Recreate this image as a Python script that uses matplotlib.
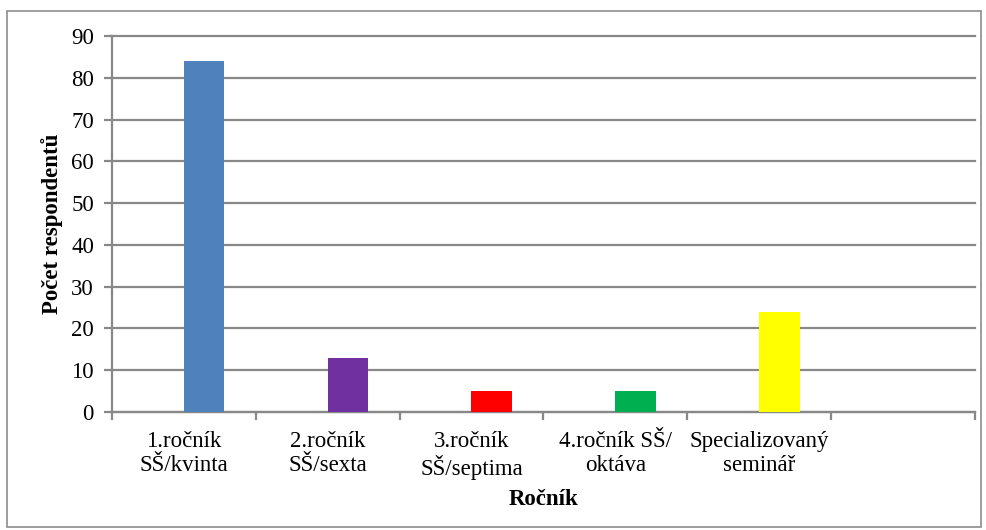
import matplotlib
matplotlib.use("Agg")
import matplotlib.pyplot as plt
from matplotlib.patches import Rectangle
import numpy as np

categories = ["1.ročník\nSŠ/kvinta", "2.ročník\nSŠ/sexta", "3.ročník\nSŠ/septima",
              "4.ročník SŠ/\noktáva", "Specializovaný\nseminář", ""]
values = [84, 13, 5, 5, 24]
colors = ["#4F81BD", "#7030A0", "#FF0000", "#00B050", "#FFFF00"]
yticks = [0, 10, 20, 30, 40, 50, 60, 70, 80, 90]

plt.rcParams['font.family'] = ['Liberation Serif', 'DejaVu Serif']

W, H = 986, 530
fig = plt.figure(figsize=(W / 100, H / 100), dpi=100)
ax = fig.add_axes([112 / W, 1 - 412 / H, (975 - 112) / W, (412 - 36) / H])

grid_c = "#888888"
n = len(categories)
x = np.arange(len(values))
ax.bar(x + 0.14, values, width=0.283, color=colors, zorder=3)

ax.set_xlim(-0.5, n - 0.5)
ax.set_ylim(0, 90)
ax.set_yticks(yticks)
ax.set_yticklabels([str(v) for v in yticks], fontsize=16.5)
ax.yaxis.grid(True, color=grid_c, linewidth=1.6, zorder=0)
for gl in ax.get_ygridlines():
    gl.set_clip_on(False)

ax.set_xticks(np.arange(n + 1) - 0.5)
ax.set_xticklabels([])
ax.set_xticks(np.arange(n), minor=True)
ax.set_xticklabels(categories, minor=True, fontsize=16.5, linespacing=1.15)
ax.tick_params(axis='x', which='minor', length=0, pad=14)
ax.tick_params(axis='x', which='major', length=6, width=1.6, color=grid_c, direction='out')
ax.tick_params(axis='y', length=6, width=1.6, color=grid_c, direction='out', pad=7)

for s in ['top', 'right']:
    ax.spines[s].set_visible(False)
for s in ['left', 'bottom']:
    ax.spines[s].set_color(grid_c)
    ax.spines[s].set_linewidth(1.6)

ax.set_ylabel("Počet respondentů", fontsize=16.5, fontweight='bold', labelpad=6)
ax.set_xlabel("Ročník", fontsize=16.5, fontweight='bold', labelpad=6)

fig.patches.append(Rectangle((7 / W, 1 - 527 / H), (981 - 7) / W, (527 - 11) / H,
                             transform=fig.transFigure, fill=False,
                             edgecolor="#8C8C8C", linewidth=1.2))

fig.savefig("out.png", dpi=100)
